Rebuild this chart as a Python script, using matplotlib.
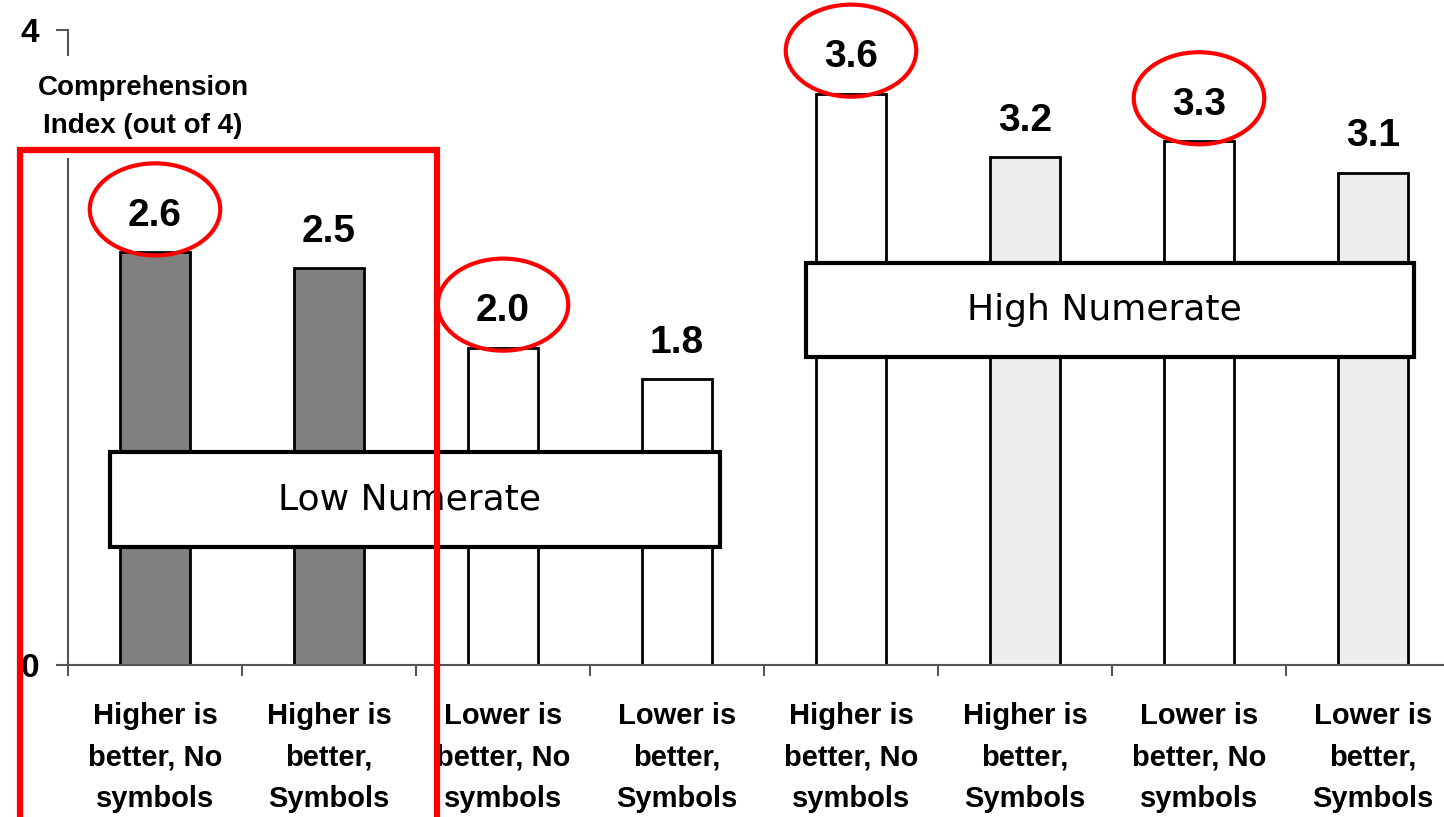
import matplotlib.pyplot as plt
from matplotlib.patches import Rectangle, Ellipse

# Data
categories = [
    "Higher is\nbetter, No\nsymbols",
    "Higher is\nbetter,\nSymbols",
    "Lower is\nbetter, No\nsymbols",
    "Lower is\nbetter,\nSymbols",
    "Higher is\nbetter, No\nsymbols",
    "Higher is\nbetter,\nSymbols",
    "Lower is\nbetter, No\nsymbols",
    "Lower is\nbetter,\nSymbols",
]
scores = [2.6, 2.5, 2.0, 1.8, 3.6, 3.2, 3.3, 3.1]
bar_colors = ["#808080", "#808080", "#ffffff", "#ffffff",
              "#ffffff", "#eeeeee", "#ffffff", "#eeeeee"]
circled = [0, 2, 4, 6]  # bars whose value is circled in red

W, H = 1444, 817
fig = plt.figure(figsize=(W / 100, H / 100), dpi=100)
ax = fig.add_axes([68 / W, (H - 665) / H, (W - 68) / W, (665 - 30) / H])

x = list(range(len(scores)))
ax.bar(x, scores, width=0.4, color=bar_colors, edgecolor="black",
       linewidth=2, zorder=2)

for s in ["top", "right"]:
    ax.spines[s].set_visible(False)
for s in ["left", "bottom"]:
    ax.spines[s].set_color("#555555")
    ax.spines[s].set_linewidth(1.5)

# y ticks
ax.set_yticks([0, 4])
ax.set_yticklabels(["0", "4"], fontsize=24, fontweight="bold",
                   family="Liberation Sans")
ax.tick_params(axis="y", direction="out", length=9, width=1.5,
               color="#555555", pad=12)

# x ticks: boundaries as major ticks, labels on minor ticks
ax.set_xticks([i - 0.5 for i in range(len(scores) + 1)])
ax.set_xticklabels([])
ax.tick_params(axis="x", which="major", direction="out", length=8,
               width=1.5, color="#555555")
ax.set_xticks(x, minor=True)
ax.set_xticklabels(categories, minor=True, fontsize=21, fontweight="bold",
                   family="Liberation Sans", linespacing=1.6)
ax.tick_params(axis="x", which="minor", length=0, pad=27)

# limits after the ticks, otherwise set_xticks widens the view
ax.set_xlim(-0.5, -0.5 + (W - 68) / 174)
ax.set_ylim(0, 4)

# y label block, hides part of the axis line
ax.text((143 - 68) / (W - 68), (665 - 107) / (665 - 30),
        "Comprehension\nIndex (out of 4)", transform=ax.transAxes,
        ha="center", va="center", fontsize=20, fontweight="bold",
        family="Liberation Sans", linespacing=1.6, zorder=5, clip_on=False,
        bbox=dict(facecolor="white", edgecolor="none", pad=14))

# value labels
for i, v in enumerate(scores):
    ax.annotate(f"{v:.1f}", (i, v), xytext=(0, 19), textcoords="offset points",
                ha="center", va="baseline", fontsize=28, fontweight="bold",
                family="Liberation Sans", zorder=4)

# group boxes
def group_box(x0, x1, y0, y1, label):
    ax.add_patch(Rectangle((x0, y0), x1 - x0, y1 - y0, facecolor="white",
                           edgecolor="black", linewidth=3, zorder=6))
    ax.text((x0 + x1) / 2 - 0.03, (y0 + y1) / 2, label, ha="center",
            va="center", fontsize=26, family="DejaVu Sans", zorder=7)

group_box(-0.259, 3.247, 0.743, 1.342, "Low Numerate")
group_box(3.741, 7.236, 1.940, 2.532, "High Numerate")

# red highlight circles
for i in circled:
    ax.add_patch(Ellipse((i, scores[i] + 0.27), 0.75, 0.58, fill=False,
                         edgecolor="#ff0000", linewidth=3, zorder=8,
                         clip_on=False))

# red highlight rectangle around the first two bars
fig.patches.append(Rectangle((20 / W, -0.05), (437 - 20) / W,
                             (H - 150) / H + 0.05, transform=fig.transFigure,
                             fill=False, edgecolor="#ff0000", linewidth=4.5,
                             zorder=10))

fig.savefig("out.png", dpi=100)
